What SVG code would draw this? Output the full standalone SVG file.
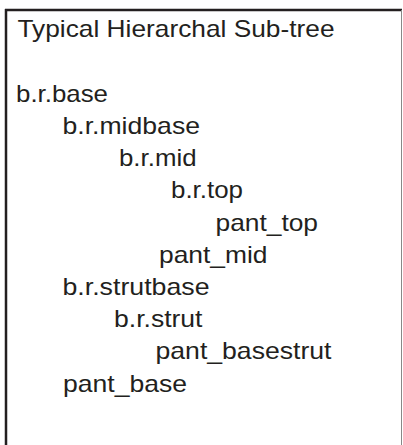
<svg xmlns="http://www.w3.org/2000/svg" width="403" height="445" viewBox="0 0 403 445">
<style>
text{font-family:"Liberation Sans",Arial,sans-serif;font-size:24px;fill:#231f20}
</style>
<rect width="403" height="445" fill="#fff"/>
<g id="frame">
<line x1="5" y1="10" x2="402" y2="10" stroke="#231f20" stroke-width="2.5"/>
<line x1="6" y1="9" x2="6" y2="445" stroke="#231f20" stroke-width="2.5"/>
<line x1="401.5" y1="10" x2="401.5" y2="445" stroke="#888" stroke-width="1"/>
</g>
<g id="title"><text x="17.5" y="36.5" textLength="317" lengthAdjust="spacingAndGlyphs">Typical Hierarchal Sub-tree</text></g>
<g id="n-b-r-base"><text x="16" y="101.7" textLength="92" lengthAdjust="spacingAndGlyphs">b.r.base</text></g>
<g id="n-b-r-midbase"><text x="62.5" y="133.9" textLength="137.5" lengthAdjust="spacingAndGlyphs">b.r.midbase</text></g>
<g id="n-b-r-mid"><text x="119" y="166.1" textLength="77.5" lengthAdjust="spacingAndGlyphs">b.r.mid</text></g>
<g id="n-b-r-top"><text x="171" y="198.3" textLength="72" lengthAdjust="spacingAndGlyphs">b.r.top</text></g>
<g id="n-pant-top"><text x="215.5" y="230.5" textLength="102.5" lengthAdjust="spacingAndGlyphs">pant_top</text></g>
<g id="n-pant-mid"><text x="159" y="262.7" textLength="108.5" lengthAdjust="spacingAndGlyphs">pant_mid</text></g>
<g id="n-b-r-strutbase"><text x="62.5" y="294.9" textLength="147" lengthAdjust="spacingAndGlyphs">b.r.strutbase</text></g>
<g id="n-b-r-strut"><text x="114" y="327.1" textLength="88.5" lengthAdjust="spacingAndGlyphs">b.r.strut</text></g>
<g id="n-pant-basestrut"><text x="155.5" y="359.3" textLength="176" lengthAdjust="spacingAndGlyphs">pant_basestrut</text></g>
<g id="n-pant-base"><text x="63" y="391.5" textLength="124" lengthAdjust="spacingAndGlyphs">pant_base</text></g>
<g id="connectors"></g>
</svg>
